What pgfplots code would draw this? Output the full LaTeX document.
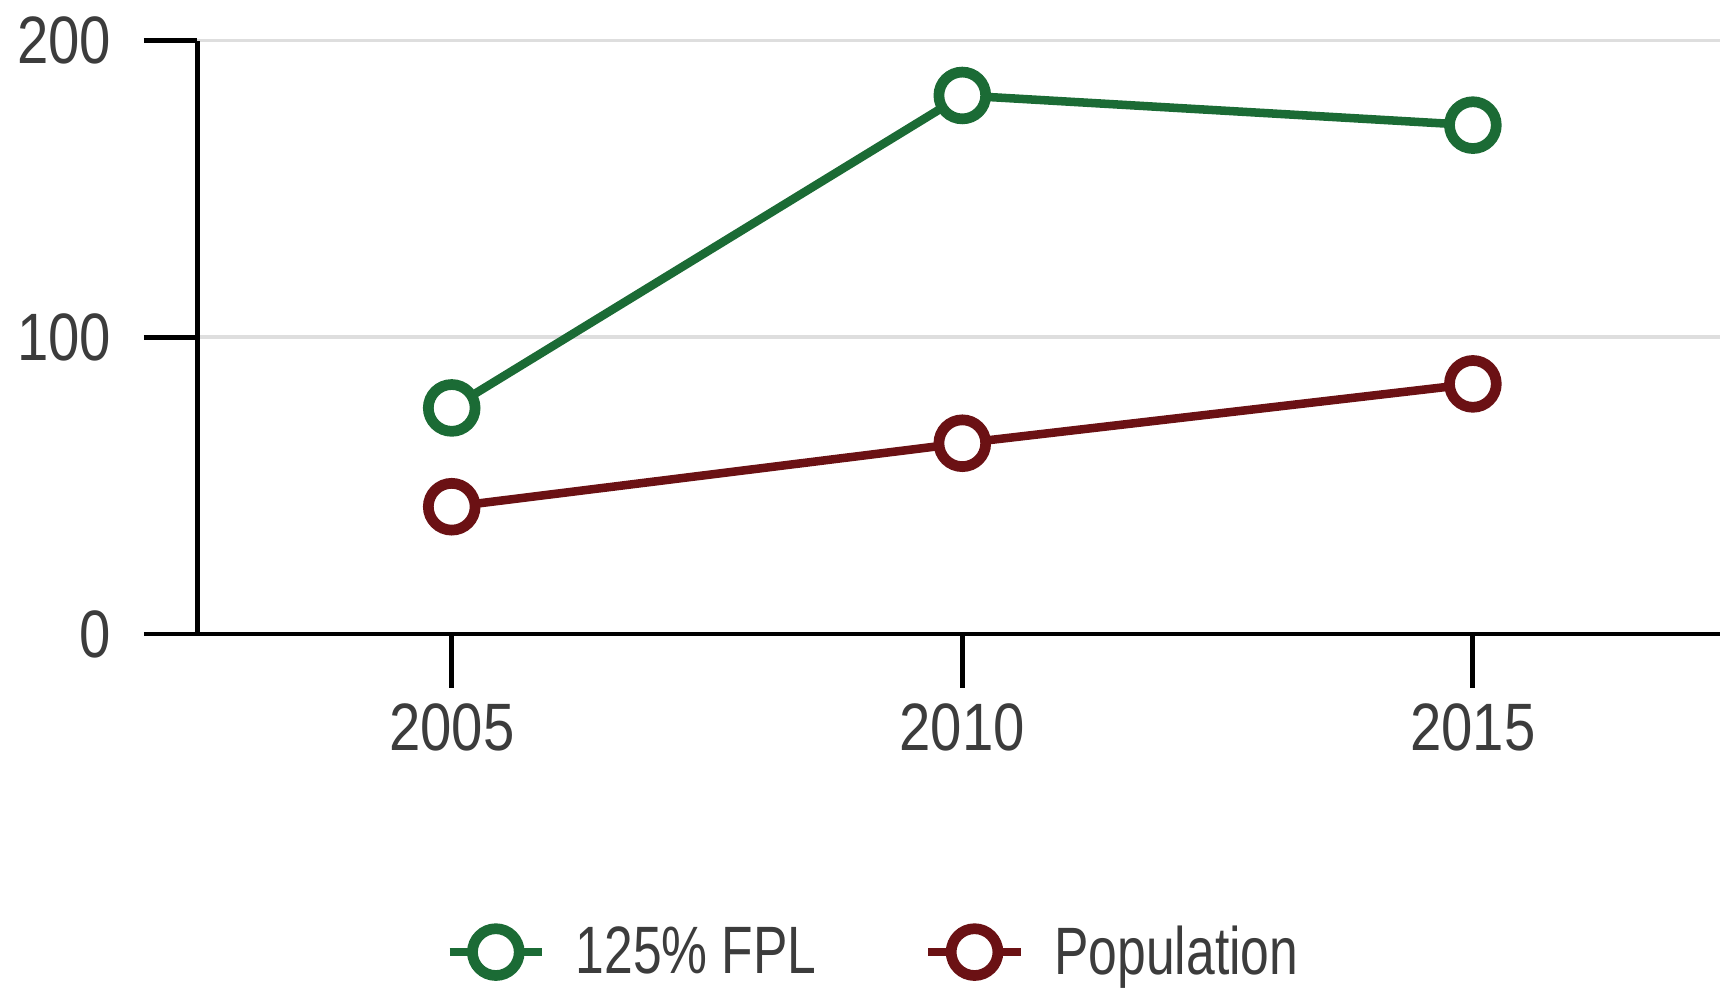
\documentclass[border=0pt]{standalone}
\usepackage{fontspec}
\setmainfont{Liberation Sans}[FakeStretch=0.84]
\newfontfamily\legfont{Liberation Sans}[FakeStretch=0.77]
\usepackage{pgfplots}
\pgfplotsset{compat=1.18}
\definecolor{fplgreen}{HTML}{1B6B35}
\definecolor{popred}{HTML}{6B1114}
\definecolor{txtgray}{HTML}{3C3C3C}
\definecolor{gridgray}{HTML}{DEDEDE}
\begin{document}
\begin{tikzpicture}
\begin{axis}[
  name=ax,
  scale only axis,
  width=624.6pt, height=243.45pt,
  xmin=2002.51, xmax=2017.42,
  ymin=0, ymax=200,
  axis x line=bottom, axis y line=left,
  axis line style={-, line width=2pt, black},
  xtick={2005,2010,2015},
  ytick={0,100,200},
  xticklabels={2005,2010,2015},
  tick align=outside,
  major tick length=22pt,
  tick style={line width=2pt, black},
  ymajorgrids=true,
  grid style={line width=1.5pt, gridgray},
  /pgf/number format/assume math mode=true,
  ticklabel style={font=\fontsize{27.5}{32}\selectfont, text=txtgray},
  yticklabel style={xshift=-10pt},
  xticklabel style={yshift=-3pt},
  clip=false,
  legend columns=2,
  legend style={draw=none, fill=none, at={(rel axis cs:0.4445,-0.536)}, anchor=center,
    font=\legfont\fontsize{27.5}{32}\selectfont, text=txtgray,
    /tikz/every odd column/.append style={column sep=10pt},
    /tikz/every even column/.append style={column sep=42pt}},
  legend cell align=left,
  legend image code/.code={
    \draw[mark repeat=2,mark phase=2] plot coordinates {(0pt,0pt) (19pt,0pt) (38pt,0pt)};
  },
]
\addplot[fplgreen, line width=3.5pt, mark=*, mark size=9.6pt,
  mark options={fill=white, line width=4.4pt, draw=fplgreen}]
  coordinates {(2005,76.2) (2010,181.5) (2015,171.5)};
\addlegendentry{125\% FPL}
\addplot[popred, line width=3.5pt, mark=*, mark size=9.6pt,
  mark options={fill=white, line width=4.4pt, draw=popred}]
  coordinates {(2005,42.9) (2010,64.3) (2015,84.3)};
\addlegendentry{Population}
\coordinate (bbsw) at (rel axis cs:0,0);
\coordinate (bbne) at (rel axis cs:1,1);
\end{axis}
\pgfresetboundingbox
\path[use as bounding box] ([xshift=-81pt,yshift=-145.8pt]bbsw) rectangle ([yshift=16.65pt]bbne);
\end{tikzpicture}
\end{document}
